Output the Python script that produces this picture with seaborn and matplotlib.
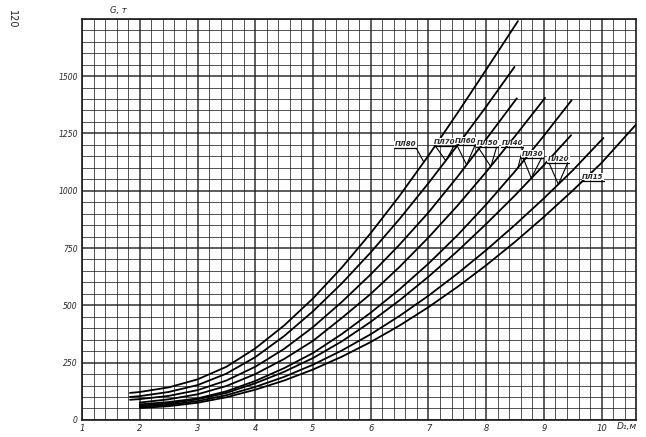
import numpy as np
import pandas as pd
import matplotlib
matplotlib.use("Agg")
import matplotlib.pyplot as plt
import seaborn as sns

# curve readings (D1, m  ->  G, t), one pair of lists per curve
names = ['ПЛ80', 'ПЛ70', 'ПЛ60', 'ПЛ50', 'ПЛ40', 'ПЛ30', 'ПЛ20', 'ПЛ15']

d_pl80 = [1.83, 2.0, 2.5, 3.0, 3.5, 4.0, 4.5, 5.0, 5.5, 6.0, 6.5, 7.0, 7.5, 8.0, 8.55]
g_pl80 = [118, 122, 142, 177, 232, 312, 412, 530, 665, 815, 978, 1153, 1338, 1528, 1740]

d_pl70 = [1.83, 2.0, 2.5, 3.0, 3.5, 4.0, 4.5, 5.0, 5.5, 6.0, 6.5, 7.0, 7.5, 8.0, 8.49]
g_pl70 = [100, 104, 122, 152, 202, 274, 366, 474, 596, 731, 877, 1033, 1197, 1367, 1540]

d_pl60 = [1.83, 2.0, 2.5, 3.0, 3.5, 4.0, 4.5, 5.0, 5.5, 6.0, 6.5, 7.0, 7.5, 8.0, 8.53]
g_pl60 = [88, 91, 105, 130, 172, 232, 310, 405, 515, 635, 765, 905, 1060, 1225, 1403]

d_pl50 = [2.0, 2.5, 3.0, 3.5, 4.0, 4.5, 5.0, 5.5, 6.0, 6.5, 7.0, 7.5, 8.0, 8.5, 9.02]
g_pl50 = [76, 90, 112, 148, 200, 266, 345, 445, 550, 668, 796, 934, 1082, 1238, 1405]

d_pl40 = [2.0, 2.5, 3.0, 3.5, 4.0, 4.5, 5.0, 5.5, 6.0, 6.5, 7.0, 7.5, 8.0, 8.5, 9.0, 9.48]
g_pl40 = [68, 78, 94, 125, 170, 226, 292, 375, 468, 570, 682, 805, 940, 1085, 1240, 1395]

d_pl30 = [2.0, 2.5, 3.0, 3.5, 4.0, 4.5, 5.0, 5.5, 6.0, 6.5, 7.0, 7.5, 8.0, 8.5, 9.0, 9.47]
g_pl30 = [62, 72, 90, 118, 160, 210, 270, 343, 428, 522, 625, 736, 855, 980, 1112, 1242]

d_pl20 = [2.0, 2.5, 3.0, 3.5, 4.0, 4.5, 5.0, 5.5, 6.0, 6.5, 7.0, 7.5, 8.0, 8.5, 9.0, 9.5, 10.03]
g_pl20 = [57, 66, 82, 108, 144, 188, 241, 303, 374, 454, 542, 638, 741, 851, 967, 1089, 1230]

d_pl15 = [2.0, 2.5, 3.0, 3.5, 4.0, 4.5, 5.0, 5.5, 6.0, 6.5, 7.0, 7.5, 8.0, 8.5, 9.0, 9.5, 10.0, 10.6]
g_pl15 = [52, 60, 75, 99, 132, 172, 220, 276, 340, 412, 492, 580, 675, 777, 886, 1001, 1122, 1290]

x_ticks = [1, 2, 3, 4, 5, 6, 7, 8, 9, 10]
y_ticks = [0, 250, 500, 750, 1000, 1250, 1500]

all_d = [d_pl80, d_pl70, d_pl60, d_pl50, d_pl40, d_pl30, d_pl20, d_pl15]
all_g = [g_pl80, g_pl70, g_pl60, g_pl50, g_pl40, g_pl30, g_pl20, g_pl15]

rows = []
for nm, dd, gg in zip(names, all_d, all_g):
    for a, b in zip(dd, gg):
        rows.append((nm, a, b))
df = pd.DataFrame(rows, columns=['series', 'D', 'G'])

sns.set_style('white')
plt.rcParams['font.family'] = ['DejaVu Sans']

fig = plt.figure(figsize=(6.46, 4.37), dpi=100)
ax = fig.add_axes([0.127, 0.039, 0.858, 0.918])

ink = '#1a1a1a'

# graph paper
for xv in np.arange(1.0, 10.61, 0.2):
    major = abs(xv - round(xv)) < 1e-6
    ax.axvline(xv, color=ink, lw=1.1 if major else 0.7, alpha=0.9 if major else 0.75, zorder=1)
for yv in np.arange(0, 1751, 50):
    major = yv % 250 == 0
    ax.axhline(yv, color=ink, lw=1.1 if major else 0.7, alpha=0.9 if major else 0.75, zorder=1)

sns.lineplot(data=df, x='D', y='G', units='series', estimator=None, sort=False,
             color='black', lw=1.3, ax=ax, zorder=3)

ax.set_xlim(1, 10.6)
ax.set_ylim(0, 1750)
for s in ax.spines.values():
    s.set_color(ink)
    s.set_linewidth(1.2)

ax.set_xticks(x_ticks)
ax.set_xticklabels([str(v) for v in x_ticks], fontsize=6, fontstyle='italic')
ax.set_yticks(y_ticks)
ax.set_yticklabels([str(v) for v in y_ticks], fontsize=5.5, fontstyle='italic')
ax.tick_params(length=0, pad=3)
ax.set_xlabel('')
ax.set_ylabel('')

fig.text(0.17, 0.975, 'G, т', fontsize=6, fontstyle='italic', ha='left', va='center')
fig.text(0.955, 0.025, 'D₁,м', fontsize=6.5, fontstyle='italic', ha='left', va='center')
fig.text(0.018, 0.955, '120', fontsize=7, rotation=-90, ha='center', va='center')

# curve labels: text centre, target point on curve, callout kind
lab_pos = [(6.6, 1190), (7.28, 1200), (7.65, 1205), (8.02, 1195), (8.45, 1195),
           (8.8, 1148), (9.25, 1125), (9.85, 1048)]
lab_tip = [(6.92, 1125), (7.3, 1131), (7.66, 1113), (8.08, 1105), (8.55, 1100),
           (8.78, 1055), (9.25, 1028), (9.6, 1025)]
lab_kind = ['right', 'v', 'v', 'v', 'right', 'v', 'v', 'left']

for nm, (tx, ty), (px, py), kind in zip(names, lab_pos, lab_tip, lab_kind):
    ax.text(tx, ty, nm, fontsize=5, fontstyle='italic', fontweight='bold',
            ha='center', va='bottom', zorder=5,
            bbox=dict(facecolor='white', edgecolor='none', pad=0.3))
    x0, x1 = tx - 0.19, tx + 0.19
    ax.plot([x0, x1], [ty - 5, ty - 5], color='black', lw=0.9, zorder=5)
    if kind == 'v':
        ax.plot([x0 + 0.03, px, x1 - 0.03], [ty - 5, py, ty - 5], color='black', lw=0.8, zorder=5)
    elif kind == 'right':
        ax.plot([x1, px], [ty - 5, py], color='black', lw=0.8, zorder=5)
    else:
        ax.plot([x0, px], [ty - 5, py], color='black', lw=0.8, zorder=5)

fig.savefig('out.png', dpi=100)
